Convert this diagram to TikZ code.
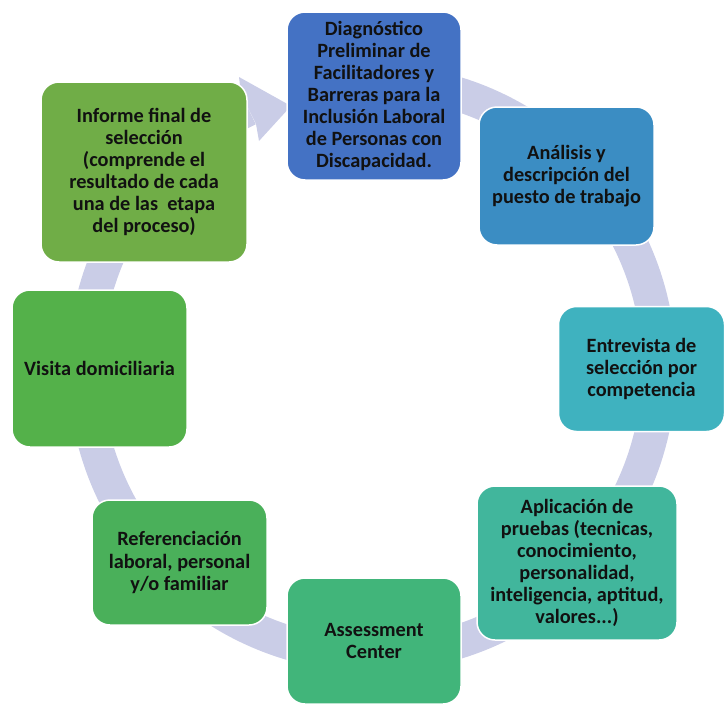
\documentclass[tikz,border=0pt]{standalone}
\usepackage{fontspec}
\setmainfont{Carlito}
\definecolor{cA}{HTML}{4472C4}
\definecolor{cB}{HTML}{3B8DC3}
\definecolor{cC}{HTML}{3FB2BF}
\definecolor{cD}{HTML}{41B69C}
\definecolor{cE}{HTML}{41B57A}
\definecolor{cF}{HTML}{4AB05A}
\definecolor{cG}{HTML}{54B14A}
\definecolor{cH}{HTML}{70AD47}
\definecolor{ringc}{HTML}{CACDE7}
\definecolor{txt}{HTML}{111111}
\tikzset{
  stepbox/.style={draw=white, line width=1.5pt, rounded corners=18pt, align=center,
    text=txt, font=\fontsize{20.3}{22.1}\selectfont\bfseries, inner sep=0pt},
}
\begin{document}
\begin{tikzpicture}[x=1pt,y=-1pt]
\useasboundingbox (0,0) rectangle (725,704);
% ring
\begin{scope}[shift={(372,368)}]
\fill[ringc] (-98:304) arc[start angle=-98, end angle=244.5, radius=304]
   -- (244.5:270) arc[start angle=244.5, end angle=-98, radius=270] -- cycle;
\end{scope}
\fill[ringc] (241,94) -- (239,77) -- (291,106) -- (259,141) -- (256,124) -- cycle;
% boxes
\node[stepbox, fill=cA, minimum width=174pt, minimum height=168pt] (n1) at (374,96)
  {Diagnóstico\\Preliminar de\\Facilitadores y\\Barreras para la\\Inclusión Laboral\\de Personas con\\Discapacidad.};
\node[stepbox, fill=cB, minimum width=175pt, minimum height=138pt] (n2) at (566.5,176)
  {Análisis y\\descripción del\\puesto de trabajo};
\node[stepbox, fill=cC, minimum width=166pt, minimum height=125pt] (n3) at (641.5,369)
  {Entrevista de\\selección por\\competencia};
\node[stepbox, fill=cD, minimum width=200pt, minimum height=154pt] (n4) at (577,563)
  {Aplicación de\\pruebas (tecnicas,\\conocimiento,\\personalidad,\\inteligencia, aptitud,\\valores...)};
\node[stepbox, fill=cE, minimum width=174pt, minimum height=126pt] (n5) at (374,641)
  {Assessment\\Center};
\node[stepbox, fill=cF, minimum width=175pt, minimum height=125pt] (n6) at (179.5,562.5)
  {Referenciación\\laboral, personal\\y/o familiar};
\node[stepbox, fill=cG, minimum width=175pt, minimum height=157pt] (n7) at (99.5,368.5)
  {Visita domiciliaria};
\node[stepbox, fill=cH, minimum width=206pt, minimum height=180pt] (n8) at (144,172)
  {Informe final de\\selección\\(comprende el\\resultado de cada\\una de las\ \ etapa\\del proceso)};
\end{tikzpicture}
\end{document}
